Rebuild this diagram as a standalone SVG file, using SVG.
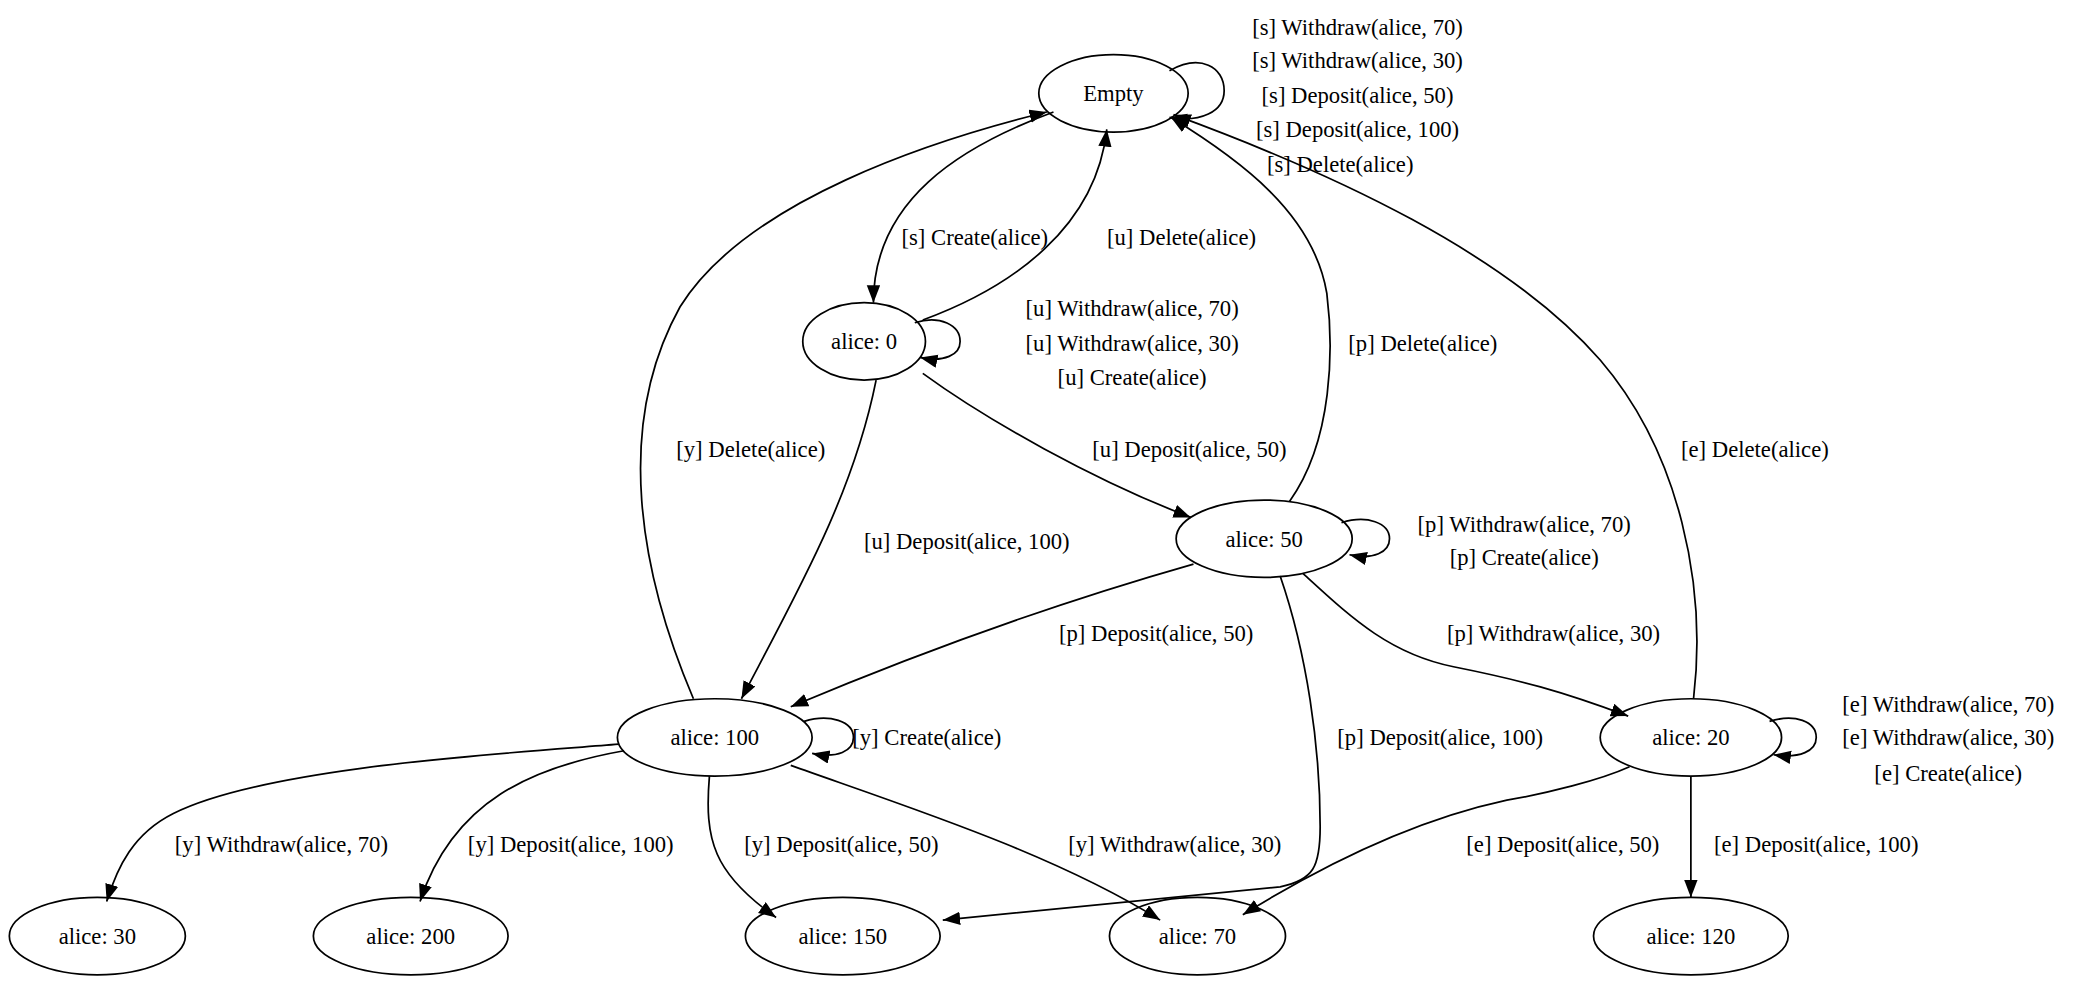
<svg xmlns="http://www.w3.org/2000/svg" width="2091" height="982" viewBox="0 0 2091 982">
<style>
text{font-family:"Liberation Serif","Times New Roman",serif;font-size:17px;text-anchor:middle;fill:#000}
ellipse{fill:none;stroke:#000;stroke-width:1.3}
.e path{fill:none;stroke:#000;stroke-width:1.3;marker-end:url(#a)}
</style>
<defs><marker id="a" markerUnits="userSpaceOnUse" markerWidth="14" markerHeight="12" refX="13" refY="5" orient="auto"><path d="M0,0 L13,5 L0,10 Z" fill="#000"/></marker></defs>
<rect width="2091" height="982" fill="#fff"/>
<g transform="scale(1.3335)">
<g id="Empty"><ellipse cx="835" cy="70" rx="56" ry="29"/><text x="835" y="76">Empty</text></g>
<g id="a0"><ellipse cx="648" cy="256" rx="46" ry="29"/><text x="648" y="262">alice: 0</text></g>
<g id="a50"><ellipse cx="948" cy="404" rx="66" ry="29"/><text x="948" y="410">alice: 50</text></g>
<g id="a100"><ellipse cx="536" cy="553" rx="73" ry="29"/><text x="536" y="559">alice: 100</text></g>
<g id="a20"><ellipse cx="1268" cy="553" rx="68" ry="29"/><text x="1268" y="559">alice: 20</text></g>
<g id="a30"><ellipse cx="73" cy="702" rx="66" ry="29"/><text x="73" y="708">alice: 30</text></g>
<g id="a200"><ellipse cx="308" cy="702" rx="73" ry="29"/><text x="308" y="708">alice: 200</text></g>
<g id="a150"><ellipse cx="632" cy="702" rx="73" ry="29"/><text x="632" y="708">alice: 150</text></g>
<g id="a70"><ellipse cx="898" cy="702" rx="66" ry="29"/><text x="898" y="708">alice: 70</text></g>
<g id="a120"><ellipse cx="1268" cy="702" rx="73" ry="29"/><text x="1268" y="708">alice: 120</text></g>
<g class="e" id="edges">
<path d="M877,53 C900,40 918,50 918,68 C918,84 900,92 877,88"/>
<path d="M790,84 C720,110 655,150 655,227"/>
<path d="M692,240 C760,215 822,170 830,97"/>
<path d="M686,242 C705,236 720,244 720,256 C720,266 708,272 690,268"/>
<path d="M692,280 C740,315 820,360 893,388"/>
<path d="M657,285 C640,370 600,440 556,524"/>
<path d="M520,524 C480,430 460,320 510,230 C560,150 700,105 785,84"/>
<path d="M967,376 C1000,330 1000,260 995,220 C985,160 930,120 878,88"/>
<path d="M1270,524 C1280,440 1260,340 1200,270 C1130,190 1000,130 880,86"/>
<path d="M1006,392 C1025,386 1042,392 1042,404 C1042,414 1030,420 1012,416"/>
<path d="M895,423 C800,450 700,485 593,530"/>
<path d="M977,430 C1010,460 1040,490 1090,500 C1140,510 1170,518 1221,537"/>
<path d="M960,432 C980,490 990,560 990,620 C990,650 985,660 960,665 L707,690"/>
<path d="M603,541 C622,535 640,541 640,553 C640,563 628,569 609,565"/>
<path d="M464,558 C380,565 200,575 130,610 C100,625 88,650 80,676"/>
<path d="M468,563 C400,575 340,600 315,676"/>
<path d="M532,582 C528,630 535,655 582,688"/>
<path d="M593,574 C680,605 790,640 870,690"/>
<path d="M1222,575 C1200,585 1160,595 1130,600 C1060,615 990,650 932,686"/>
<path d="M1268,582 L1268,673"/>
<path d="M1327,541 C1346,535 1362,541 1362,553 C1362,563 1350,569 1330,566"/>
</g>
<g id="labels">
<text x="1018" y="26">[s] Withdraw(alice, 70)</text>
<text x="1018" y="51">[s] Withdraw(alice, 30)</text>
<text x="1018" y="77">[s] Deposit(alice, 50)</text>
<text x="1018" y="103">[s] Deposit(alice, 100)</text>
<text x="1005" y="129">[s] Delete(alice)</text>
<text x="731" y="184">[s] Create(alice)</text>
<text x="886" y="184">[u] Delete(alice)</text>
<text x="849" y="237">[u] Withdraw(alice, 70)</text>
<text x="849" y="263">[u] Withdraw(alice, 30)</text>
<text x="849" y="289">[u] Create(alice)</text>
<text x="892" y="343">[u] Deposit(alice, 50)</text>
<text x="725" y="412">[u] Deposit(alice, 100)</text>
<text x="563" y="343">[y] Delete(alice)</text>
<text x="1067" y="263">[p] Delete(alice)</text>
<text x="1316" y="343">[e] Delete(alice)</text>
<text x="1143" y="399">[p] Withdraw(alice, 70)</text>
<text x="1143" y="424">[p] Create(alice)</text>
<text x="867" y="481">[p] Deposit(alice, 50)</text>
<text x="1165" y="481">[p] Withdraw(alice, 30)</text>
<text x="1080" y="559">[p] Deposit(alice, 100)</text>
<text x="695" y="559">[y] Create(alice)</text>
<text x="211" y="639">[y] Withdraw(alice, 70)</text>
<text x="428" y="639">[y] Deposit(alice, 100)</text>
<text x="631" y="639">[y] Deposit(alice, 50)</text>
<text x="881" y="639">[y] Withdraw(alice, 30)</text>
<text x="1172" y="639">[e] Deposit(alice, 50)</text>
<text x="1362" y="639">[e] Deposit(alice, 100)</text>
<text x="1461" y="534">[e] Withdraw(alice, 70)</text>
<text x="1461" y="559">[e] Withdraw(alice, 30)</text>
<text x="1461" y="586">[e] Create(alice)</text>
</g>
</g>
</svg>
